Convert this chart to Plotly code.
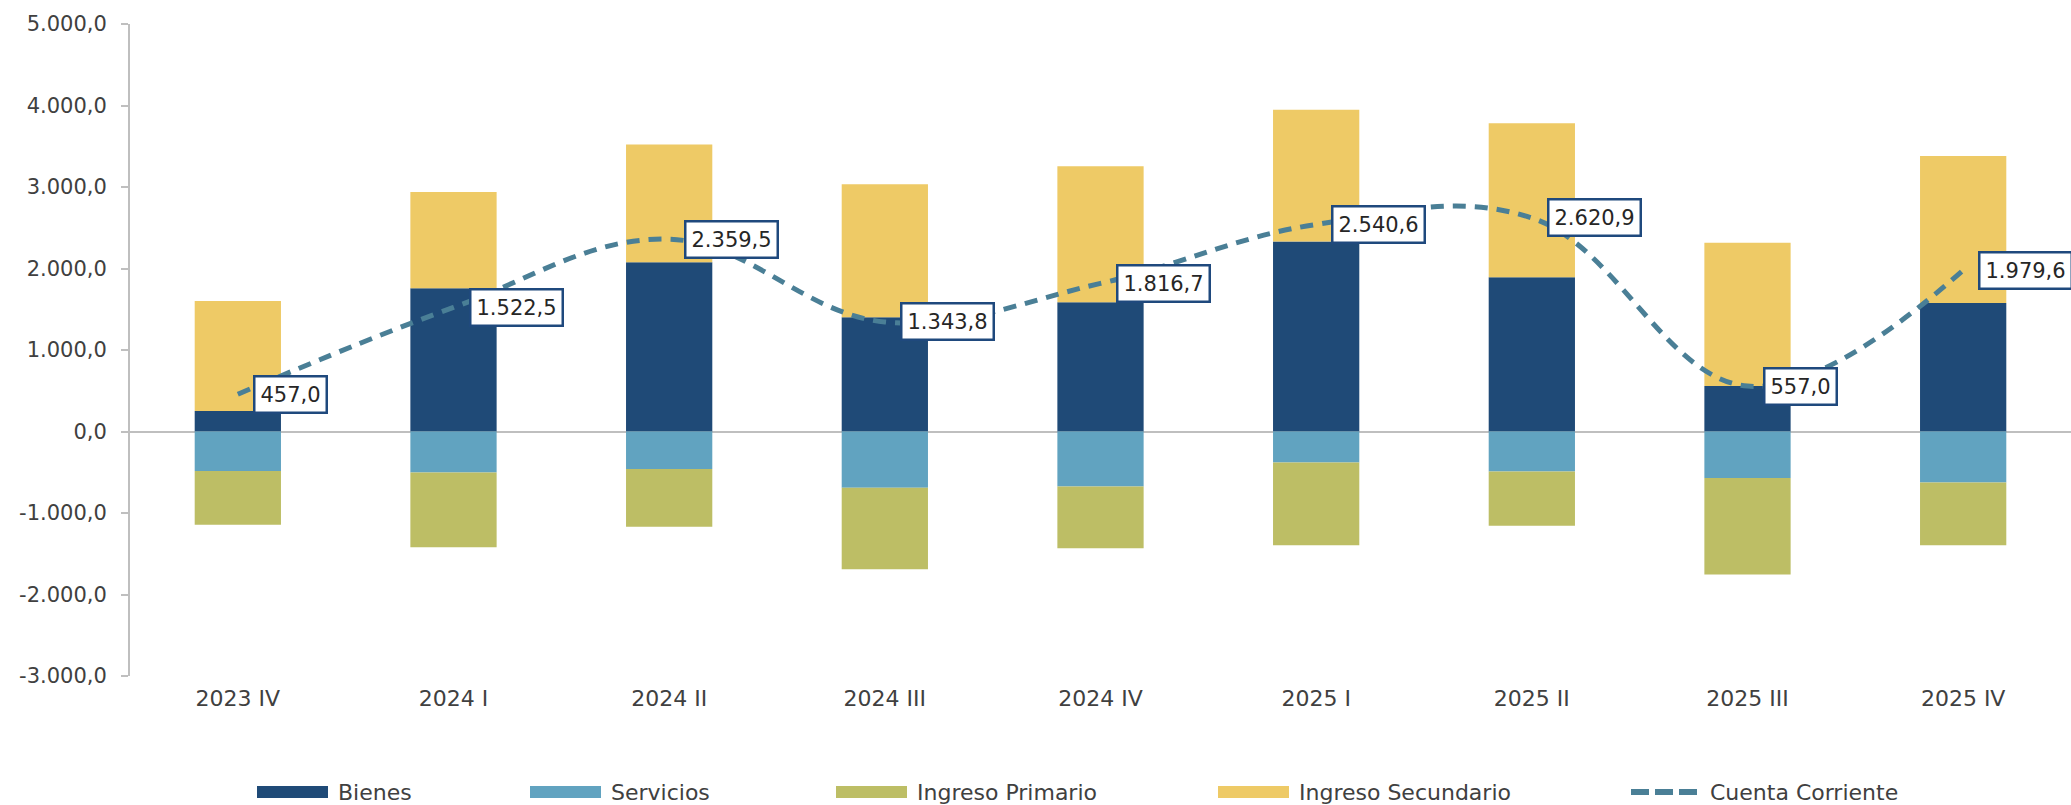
import plotly.graph_objects as go

# ---------------- data ----------------
categories = ["2023 IV", "2024 I", "2024 II", "2024 III", "2024 IV",
              "2025 I", "2025 II", "2025 III", "2025 IV"]
bienes = [252, 1758, 2078, 1402, 1586, 2332, 1893, 557, 1578]
servicios = [-484, -504, -459, -689, -676, -381, -492, -570, -627]
ingreso_primario = [-660, -915, -709, -1000, -758, -1016, -664, -1184, -770]
ingreso_secundario = [1349, 1180, 1445, 1631, 1668, 1615, 1889, 1758, 1803]
cuenta_corriente = [457.0, 1522.5, 2359.5, 1343.8, 1816.7, 2540.6, 2620.9, 557.0, 1979.6]

y_tickvals = [-3000, -2000, -1000, 0, 1000, 2000, 3000, 4000, 5000]
y_ticktext = ["-3.000,0", "-2.000,0", "-1.000,0", "0,0", "1.000,0",
              "2.000,0", "3.000,0", "4.000,0", "5.000,0"]

series_names = ["Bienes", "Servicios", "Ingreso Primario", "Ingreso Secundario", "Cuenta Corriente"]

# ---------------- style ----------------
C_BIENES = "#1F4A77"
C_SERV = "#61A3C0"
C_IP = "#BDBE65"
C_IS = "#EECA66"
C_LINE = "#4A7F96"
C_LABEL_BORDER = "#1F497D"
AXIS_GRAY = "#BFBFBF"
TEXT = "#404040"
FONT = "DejaVu Sans"

W, H = 2071, 805
ML, MR, MT, MB = 130, 0, 24, 129
PW = W - ML - MR
PH = H - MT - MB


def fmt_es(v):
    s = f"{v:,.1f}"
    return s.replace(",", "X").replace(".", ",").replace("X", ".")


def px_x(px):
    return (px - ML) / PW


def px_y(py):
    return (H - MB - py) / PH


fig = go.Figure()
bar_series = [(series_names[0], bienes, C_BIENES),
              (series_names[1], servicios, C_SERV),
              (series_names[2], ingreso_primario, C_IP),
              (series_names[3], ingreso_secundario, C_IS)]
for name, vals, col in bar_series:
    fig.add_trace(go.Bar(x=categories, y=vals, name=name, marker_color=col,
                         marker_line_width=0, showlegend=False))

fig.add_trace(go.Scatter(x=categories, y=cuenta_corriente, name=series_names[4],
                         mode="lines", line=dict(color=C_LINE, width=5, dash="13px,9px",
                                                 shape="spline", smoothing=1.1),
                         showlegend=False))

annotations = []
for c, v in zip(categories, cuenta_corriente):
    annotations.append(dict(x=c, y=v, xref="x", yref="y", text=fmt_es(v),
                            showarrow=False, xanchor="left", yanchor="middle",
                            xshift=15, bgcolor="white", bordercolor=C_LABEL_BORDER,
                            borderwidth=2.5, borderpad=5,
                            font=dict(family=FONT, size=21, color="#262626")))

# manual legend (wide swatches as in the original)
legend_swatch_px = [257, 530, 836, 1218, 1629]
legend_y_px = 792
shapes = []
legend_colors = [C_BIENES, C_SERV, C_IP, C_IS]
for i, name in enumerate(series_names):
    x0 = legend_swatch_px[i]
    if i < 4:
        shapes.append(dict(type="rect", xref="paper", yref="paper",
                           x0=px_x(x0), x1=px_x(x0 + 71),
                           y0=px_y(legend_y_px + 6), y1=px_y(legend_y_px - 6),
                           fillcolor=legend_colors[i], line_width=0))
    else:
        shapes.append(dict(type="line", xref="paper", yref="paper",
                           x0=px_x(x0 + 2), x1=px_x(x0 + 70),
                           y0=px_y(legend_y_px), y1=px_y(legend_y_px),
                           line=dict(color=C_LINE, width=6, dash="18px,6px")))
    annotations.append(dict(x=px_x(x0 + 79), y=px_y(legend_y_px), xref="paper", yref="paper",
                            text=name, showarrow=False, xanchor="left", yanchor="middle",
                            font=dict(family=FONT, size=22, color=TEXT)))

fig.update_layout(
    width=W, height=H,
    margin=dict(l=ML, r=MR, t=MT, b=MB, pad=0),
    barmode="relative", bargap=0.6,
    plot_bgcolor="white", paper_bgcolor="white",
    font=dict(family=FONT, size=21, color=TEXT),
    showlegend=False,
    annotations=annotations, shapes=shapes,
    xaxis=dict(range=[-0.5, 8.5], showline=False, showgrid=False, zeroline=False,
               ticks="", tickfont=dict(size=22, color=TEXT), ticklabelstandoff=7),
    yaxis=dict(range=[-3000, 5000], tickvals=y_tickvals, ticktext=y_ticktext,
               showgrid=False, zeroline=True, zerolinecolor=AXIS_GRAY, zerolinewidth=2,
               showline=True, linecolor=AXIS_GRAY, linewidth=2,
               ticks="outside", ticklen=7, tickwidth=2, tickcolor=AXIS_GRAY,
               tickfont=dict(size=21, color=TEXT), ticklabelstandoff=10),
)

fig.write_html("out.html", config={"displayModeBar": False},
               post_script="document.body.style.margin='0';")
